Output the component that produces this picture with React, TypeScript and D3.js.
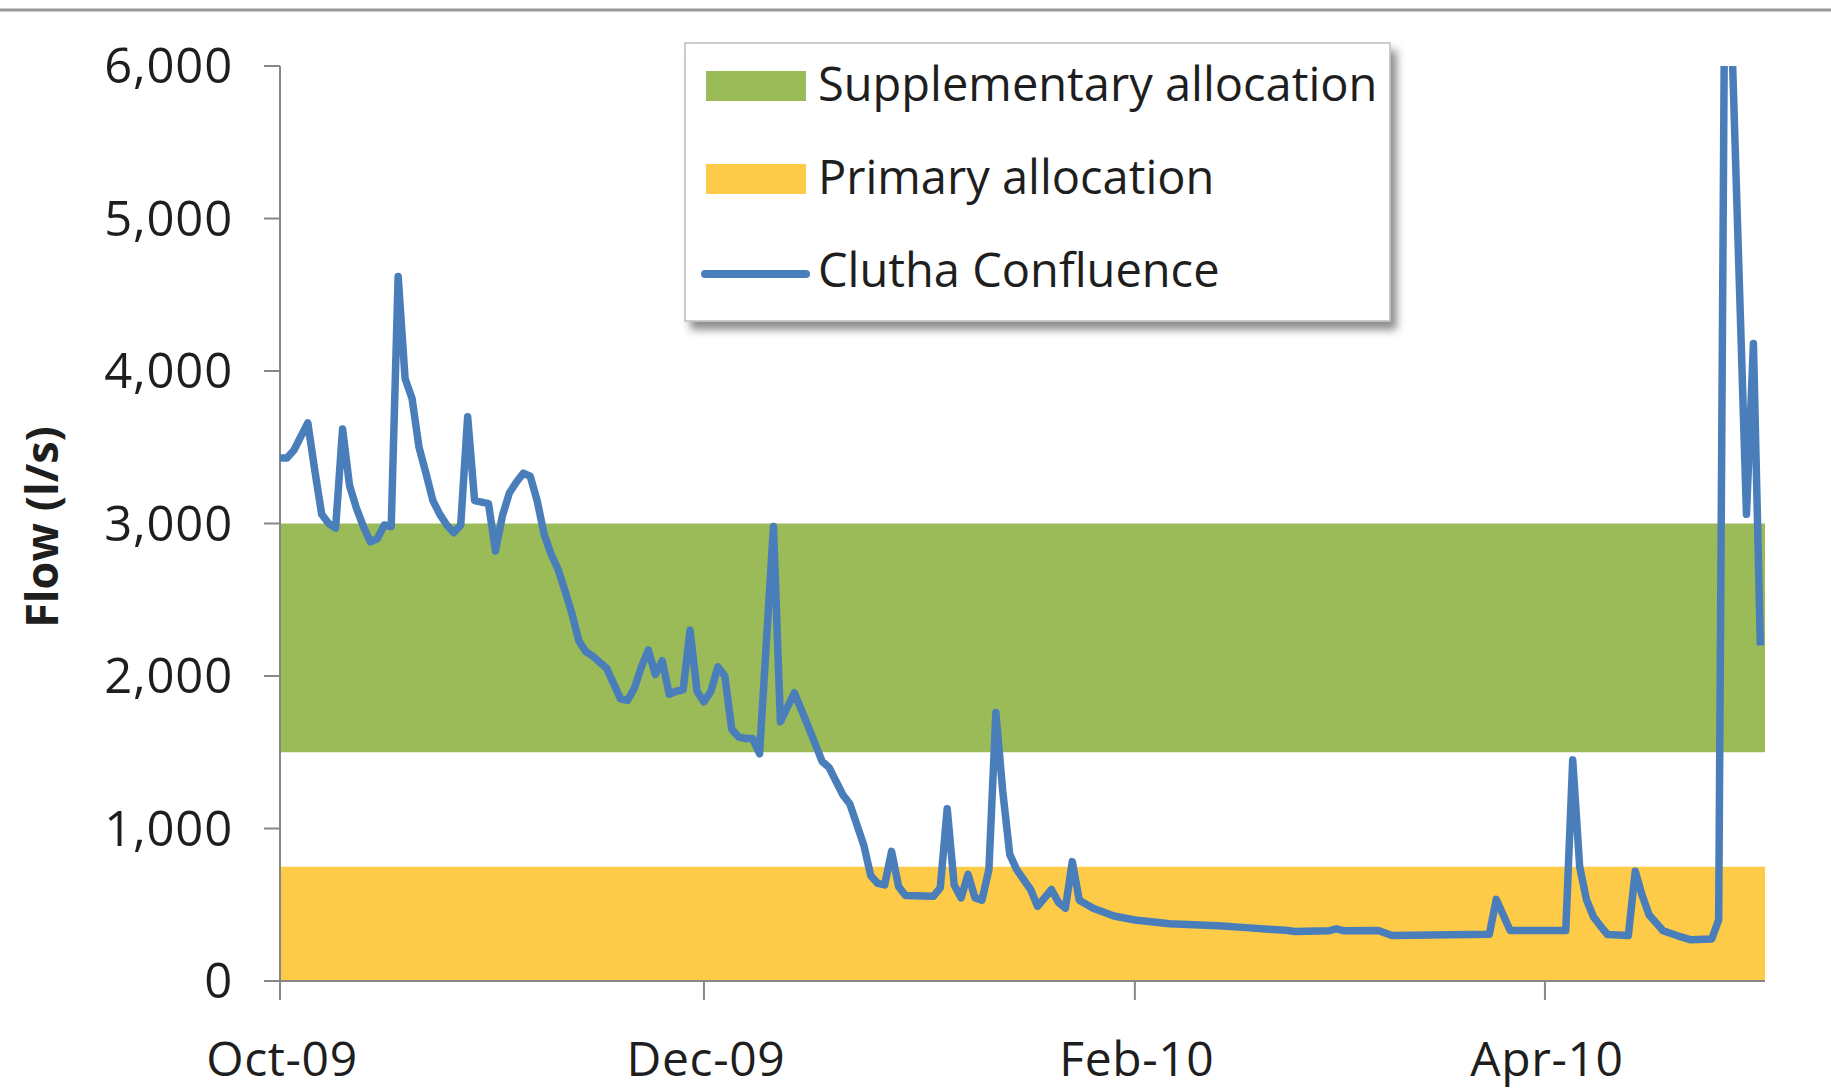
import React from 'react';
import * as d3 from 'd3';

// Daily flow record, Clutha Confluence (l/s), day offsets from the series start.
const seriesStart = new Date(2009, 9, 1);
const axisEnd = new Date(2010, 4, 2, 16);

const flowDay = [
  0, 1, 2, 4, 5, 6, 7, 8, 9, 10, 11, 12, 13, 14, 15, 16, 17, 18, 19, 20,
  21, 22, 23, 24, 25, 26, 27, 28, 29, 30, 31, 32, 33, 34, 35, 36, 37, 38, 39, 40,
  41, 42, 43, 44, 45, 46, 47, 48, 49, 50, 51, 52, 53, 54, 55, 56, 57, 58, 59, 60,
  61, 62, 63, 64, 65, 66, 67, 68, 69, 71, 72, 74, 76, 78, 79, 81, 82, 84, 85, 86,
  87, 88, 89, 90, 94, 95, 96, 97, 98, 99, 100, 101, 102, 103, 104, 105, 106, 108, 109, 111,
  112, 113, 114, 115, 117, 120, 123, 128, 135, 139, 145, 146, 151, 152, 153, 158, 160, 174, 175, 177,
  185, 186, 187, 188, 189, 190, 191, 194, 195, 196, 197, 199, 201, 203, 206, 207, 208, 211, 212, 213,
];
const flowValue = [
  3430, 3430, 3480, 3660, 3350, 3060, 3000, 2970, 3620, 3250, 3100, 2980, 2880, 2900, 2990, 2980, 4620, 3950, 3820, 3500,
  3330, 3150, 3060, 2990, 2940, 2990, 3700, 3150, 3140, 3130, 2820, 3050, 3200, 3270, 3330, 3310, 3150, 2930, 2800, 2700,
  2560, 2410, 2230, 2160, 2130, 2090, 2050, 1950, 1850, 1840, 1920, 2060, 2170, 2010, 2100, 1880, 1900, 1910, 2300, 1900,
  1830, 1900, 2060, 2000, 1650, 1600, 1590, 1590, 1490, 2980, 1700, 1890, 1670, 1440, 1400, 1220, 1160, 890, 690, 640,
  630, 850, 620, 560, 555, 610, 1130, 630, 545, 700, 545, 530, 730, 1760, 1240, 830, 730, 600, 490, 600,
  516, 477, 783, 530, 477, 426, 400, 375, 362, 350, 331, 325, 330, 342, 330, 331, 298, 307, 535, 331,
  331, 1450, 750, 530, 420, 360, 305, 298, 719, 560, 433, 330, 298, 270, 275, 400, 7500, 3060, 4180, 2200,
];

// Allocation bands (l/s)
const supplementaryRange = [1500, 3000];
const primaryRange = [0, 750];

// Axis ticks
const flowTicks = [0, 1000, 2000, 3000, 4000, 5000, 6000];
const monthTicks = [
  new Date(2009, 9, 1),
  new Date(2009, 11, 1),
  new Date(2010, 1, 1),
  new Date(2010, 3, 1),
];

const legendItems = [
  { label: 'Supplementary allocation', kind: 'band', color: '#9bbb59' },
  { label: 'Primary allocation', kind: 'band', color: '#fdcb47' },
  { label: 'Clutha Confluence', kind: 'line', color: '#4a7ebb' },
];

const W = 1831;
const H = 1089;
const plot = { left: 280, right: 1765, top: 66, bottom: 981 };
const FONT = '"Open Sans", "Segoe UI", sans-serif';
const TEXT = '#1e1e1e';
const AXIS = '#868686';

export default function App() {
  const x = d3.scaleTime().domain([seriesStart, axisEnd]).range([plot.left, plot.right]);
  const y = d3.scaleLinear().domain([0, 6000]).range([plot.bottom, plot.top]);
  const fmt = d3.timeFormat('%b-%y');
  const num = d3.format(',');

  const points = flowDay.map((d, i) => ({
    date: d3.timeDay.offset(seriesStart, d),
    value: flowValue[i],
  }));

  const band = (range: number[]) =>
    d3
      .area<Date>()
      .x((d) => x(d))
      .y0(y(range[0]))
      .y1(y(range[1]))([seriesStart, axisEnd]) || '';

  const line = d3
    .line<{ date: Date; value: number }>()
    .x((d) => x(d.date))
    .y((d) => y(d.value))
    .curve(d3.curveLinear)(points) || '';

  const legend = { x: 685, y: 43, w: 705, h: 278 };
  const rowY = [86, 179, 272];

  return (
    <svg
      width={W}
      height={H}
      style={{ position: 'absolute', left: 0, top: 0, background: '#fff' }}
      fontFamily={FONT}
    >
      <defs>
        <clipPath id="plotClip">
          <rect x={plot.left} y={plot.top} width={plot.right - plot.left + 5} height={plot.bottom - plot.top} />
        </clipPath>
        <filter id="legendShadow" x="-10%" y="-10%" width="130%" height="140%">
          <feDropShadow dx="6" dy="8" stdDeviation="4" floodColor="#000" floodOpacity="0.45" />
        </filter>
      </defs>

      <rect x={0} y={0} width={W} height={H} fill="#fff" />
      <line x1={0} x2={W} y1={10} y2={10} stroke="#9a9a9a" strokeWidth={3} />

      {/* allocation bands */}
      <path d={band(supplementaryRange)} fill="#9bbb59" />
      <path d={band(primaryRange)} fill="#fdcb47" />

      {/* y axis */}
      <line x1={plot.left} x2={plot.left} y1={plot.top} y2={plot.bottom + 19} stroke={AXIS} strokeWidth={2} />
      {flowTicks.map((t) => (
        <g key={t}>
          <line x1={plot.left - 16} x2={plot.left} y1={y(t)} y2={y(t)} stroke={AXIS} strokeWidth={2} />
          <text x={233} y={y(t) + 17} textAnchor="end" fontSize={49} letterSpacing={0.8} fill={TEXT}>
            {num(t)}
          </text>
        </g>
      ))}

      {/* x axis */}
      <line x1={plot.left} x2={plot.right} y1={plot.bottom} y2={plot.bottom} stroke={AXIS} strokeWidth={2} />
      {monthTicks.map((m) => (
        <g key={m.getTime()}>
          <line x1={x(m)} x2={x(m)} y1={plot.bottom} y2={plot.bottom + 19} stroke={AXIS} strokeWidth={2} />
          <text x={x(m) + 2} y={1076} textAnchor="middle" fontSize={48} letterSpacing={0.6} fill={TEXT}>
            {fmt(m)}
          </text>
        </g>
      ))}

      <text
        transform={`translate(58, 527) rotate(-90)`}
        textAnchor="middle"
        fontSize={45}
        fontWeight="bold"
        fill={TEXT}
      >
        Flow (l/s)
      </text>

      {/* flow series */}
      <path
        d={line}
        fill="none"
        stroke="#4a7ebb"
        strokeWidth={7.5}
        strokeLinejoin="round"
        clipPath="url(#plotClip)"
      />

      {/* legend */}
      <rect
        x={legend.x}
        y={legend.y}
        width={legend.w}
        height={legend.h}
        fill="#fff"
        stroke="#bdbdbd"
        strokeWidth={1.5}
        filter="url(#legendShadow)"
      />
      {legendItems.map((item, i) => (
        <g key={item.label}>
          {item.kind === 'band' ? (
            <rect x={706} y={rowY[i] - 15} width={100} height={30} fill={item.color} />
          ) : (
            <line
              x1={705}
              x2={806}
              y1={rowY[i] + 2}
              y2={rowY[i] + 2}
              stroke={item.color}
              strokeWidth={8}
              strokeLinecap="round"
            />
          )}
          <text x={818} y={rowY[i] + 15} fontSize={47} fill={TEXT}>
            {item.label}
          </text>
        </g>
      ))}
    </svg>
  );
}
